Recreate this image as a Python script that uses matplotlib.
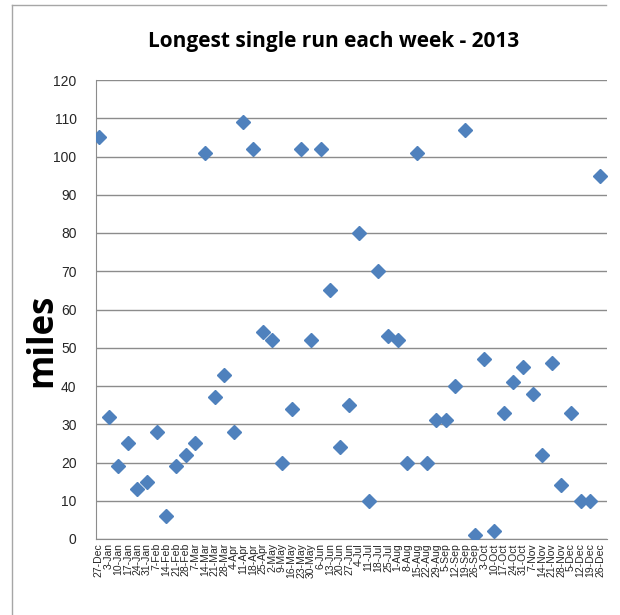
import matplotlib
matplotlib.use("Agg")
import matplotlib.pyplot as plt
from matplotlib.lines import Line2D

# Week-ending dates (category labels) and longest single run per week (miles)
weeks = [
    "27-Dec", "3-Jan", "10-Jan", "17-Jan", "24-Jan", "31-Jan", "7-Feb", "14-Feb",
    "21-Feb", "28-Feb", "7-Mar", "14-Mar", "21-Mar", "28-Mar", "4-Apr", "11-Apr",
    "18-Apr", "25-Apr", "2-May", "9-May", "16-May", "23-May", "30-May", "6-Jun",
    "13-Jun", "20-Jun", "27-Jun", "4-Jul", "11-Jul", "18-Jul", "25-Jul", "1-Aug",
    "8-Aug", "15-Aug", "22-Aug", "29-Aug", "5-Sep", "12-Sep", "19-Sep", "26-Sep",
    "3-Oct", "10-Oct", "17-Oct", "24-Oct", "31-Oct", "7-Nov", "14-Nov", "21-Nov",
    "28-Nov", "5-Dec", "12-Dec", "19-Dec", "26-Dec",
]
miles = [
    105, 32, 19, 25, 13, 15, 28, 6, 19, 22, 25, 101, 37, 43, 28, 109,
    102, 54, 52, 20, 34, 102, 52, 102, 65, 24, 35, 80, 10, 70, 53, 52,
    20, 101, 20, 31, 31, 40, 107, 1, 47, 2, 33, 41, 45, 38, 22, 46,
    14, 33, 10, 10, 95,
]
y_ticks = list(range(0, 121, 10))

plt.rcParams["font.family"] = ["Liberation Sans", "DejaVu Sans"]

fig = plt.figure(figsize=(6.2, 6.15), dpi=100)
fig.patch.set_facecolor("white")

# light frame around the chart area
fig.add_artist(Line2D([12 / 620, 12 / 620], [0, 1 - 5 / 615],
                      transform=fig.transFigure, color="#a6a6a6", lw=1.0))
fig.add_artist(Line2D([12 / 620, 606 / 620], [1 - 5 / 615, 1 - 5 / 615],
                      transform=fig.transFigure, color="#a6a6a6", lw=1.0))

ax = fig.add_axes([96 / 620, 1 - 539 / 615, (607 - 96) / 620, (539 - 80) / 615])

x = list(range(len(weeks)))
ax.plot(x, miles, linestyle="none", marker="D", markersize=7,
        color="#4f81bd", markeredgecolor="#4f81bd", zorder=3)

ax.set_ylim(0, 120)
ax.set_xlim(-0.3, len(weeks) - 1 + 0.73)
ax.set_yticks(y_ticks)
ax.set_yticklabels([str(v) for v in y_ticks], fontsize=10, color="#262626")
ax.yaxis.grid(True, color="#8c8c8c", lw=1.0)
ax.set_axisbelow(True)

ax.set_xticks(x)
ax.set_xticklabels(weeks, rotation=90, fontsize=7.5, color="#262626", va="top")
ax.tick_params(axis="x", length=0, pad=3)
ax.tick_params(axis="y", length=0, pad=14)

for side in ("top", "right"):
    ax.spines[side].set_visible(False)
ax.spines["left"].set_color("#8c8c8c")
ax.spines["bottom"].set_color("#8c8c8c")

fig.text(334 / 620, 1 - 42 / 615, "Longest single run each week - 2013",
         ha="center", va="center", fontsize=15, fontweight="bold",
         family=["Open Sans", "DejaVu Sans"])
fig.text(42 / 620, 1 - 340 / 615, "miles", rotation=90, ha="center",
         va="center", fontsize=25, fontweight="bold",
         family=["Open Sans", "DejaVu Sans"])

fig.savefig("out.png", dpi=100, facecolor="white")
